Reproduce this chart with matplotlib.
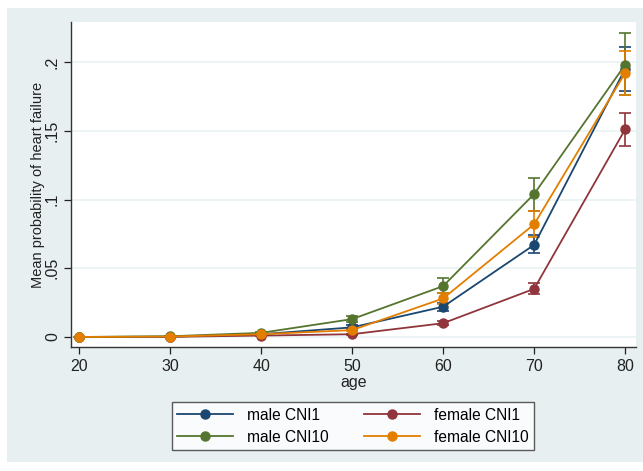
import matplotlib.pyplot as plt
from matplotlib.patches import Rectangle

plt.rcParams["font.family"] = ["Liberation Sans", "DejaVu Sans"]

# Mean predicted probability of heart failure by age, with 95% CIs
ages = [20, 30, 40, 50, 60, 70, 80]

male_cni1 = [0.0, 0.0002, 0.002, 0.007, 0.022, 0.067, 0.195]
male_cni1_lo = [0.0, 0.0001, 0.0015, 0.0055, 0.019, 0.061, 0.179]
male_cni1_hi = [0.0, 0.0003, 0.0025, 0.0085, 0.025, 0.074, 0.211]

female_cni1 = [0.0, 0.0001, 0.001, 0.002, 0.010, 0.035, 0.151]
female_cni1_lo = [0.0, 0.0, 0.0007, 0.0015, 0.0085, 0.031, 0.139]
female_cni1_hi = [0.0, 0.0002, 0.0013, 0.0025, 0.0115, 0.039, 0.163]

male_cni10 = [0.0, 0.0005, 0.003, 0.013, 0.037, 0.104, 0.198]
male_cni10_lo = [0.0, 0.0003, 0.0022, 0.011, 0.032, 0.092, 0.176]
male_cni10_hi = [0.0, 0.0007, 0.0038, 0.015, 0.043, 0.116, 0.221]

female_cni10 = [0.0, 0.0003, 0.002, 0.005, 0.028, 0.082, 0.192]
female_cni10_lo = [0.0, 0.0002, 0.0015, 0.004, 0.024, 0.073, 0.176]
female_cni10_hi = [0.0, 0.0004, 0.0025, 0.006, 0.032, 0.092, 0.208]

series = [
    ("male CNI1", male_cni1, male_cni1_lo, male_cni1_hi, "#1a476f"),
    ("female CNI1", female_cni1, female_cni1_lo, female_cni1_hi, "#90353b"),
    ("male CNI10", male_cni10, male_cni10_lo, male_cni10_hi, "#55752f"),
    ("female CNI10", female_cni10, female_cni10_lo, female_cni10_hi, "#e37e00"),
]

y_ticks = [0, 0.05, 0.1, 0.15, 0.2]
y_tick_labels = ["0", ".05", ".1", ".15", ".2"]

bg = "#e7eff1"
grid = "#eaf2f3"

fig = plt.figure(figsize=(6.43, 4.71), dpi=100, facecolor="white")
fig.patches.append(Rectangle((7 / 643, 0.02), 1 - 7 / 643, 1 - 0.02 - 8 / 471,
                             transform=fig.transFigure, facecolor=bg,
                             edgecolor="none", zorder=-1))

ax = fig.add_axes([71 / 643, 1 - 347 / 471, 565 / 643, 325 / 471])
ax.set_facecolor("white")

handles = {}
for name, mean, lo, hi, color in series:
    err = [[m - l for m, l in zip(mean, lo)], [h - m for m, h in zip(mean, hi)]]
    ax.errorbar(ages, mean, yerr=err, fmt="none", ecolor=color,
                elinewidth=1.2, capsize=4, capthick=1.2, zorder=2)
    line, = ax.plot(ages, mean, color=color, marker="o", markersize=6.5,
                    linewidth=1.3, label=name, zorder=3)
    handles[name] = line

ax.set_xlim(19.1, 81.2)
ax.set_ylim(-0.0073, 0.2292)
ax.set_xticks(ages)
ax.set_yticks(y_ticks)
ax.set_yticklabels(y_tick_labels, rotation=90, va="center")
ax.grid(axis="y", color=grid, linewidth=1.2)
ax.set_axisbelow(True)

for side in ["top", "right"]:
    ax.spines[side].set_visible(False)
for side in ["left", "bottom"]:
    ax.spines[side].set_color("#333333")
    ax.spines[side].set_linewidth(1.0)
ax.tick_params(colors="#222222", labelsize=11.5, length=5, width=0.9)
ax.tick_params(axis="y", pad=3)

ax.set_xlabel("age", fontsize=11.5, color="#222222", labelpad=1)
ax.set_ylabel("Mean probability of heart failure", fontsize=10.5,
              color="#222222", labelpad=0)

# legend fills column by column, so list entries so that rows read male/female
order = ["male CNI1", "male CNI10", "female CNI1", "female CNI10"]
leg = fig.legend(handles=[handles[k] for k in order],
                 loc="center", bbox_to_anchor=(353 / 643, 1 - 426 / 471),
                 ncol=2, frameon=True, fancybox=False, fontsize=11.2,
                 handlelength=3.6, columnspacing=2.3, borderpad=0.35,
                 labelspacing=0.45, handletextpad=0.9)
leg.get_frame().set_edgecolor("#333333")
leg.get_frame().set_linewidth(1.0)
leg.get_frame().set_facecolor("white")

fig.savefig("out.png", dpi=100, facecolor=fig.get_facecolor())
